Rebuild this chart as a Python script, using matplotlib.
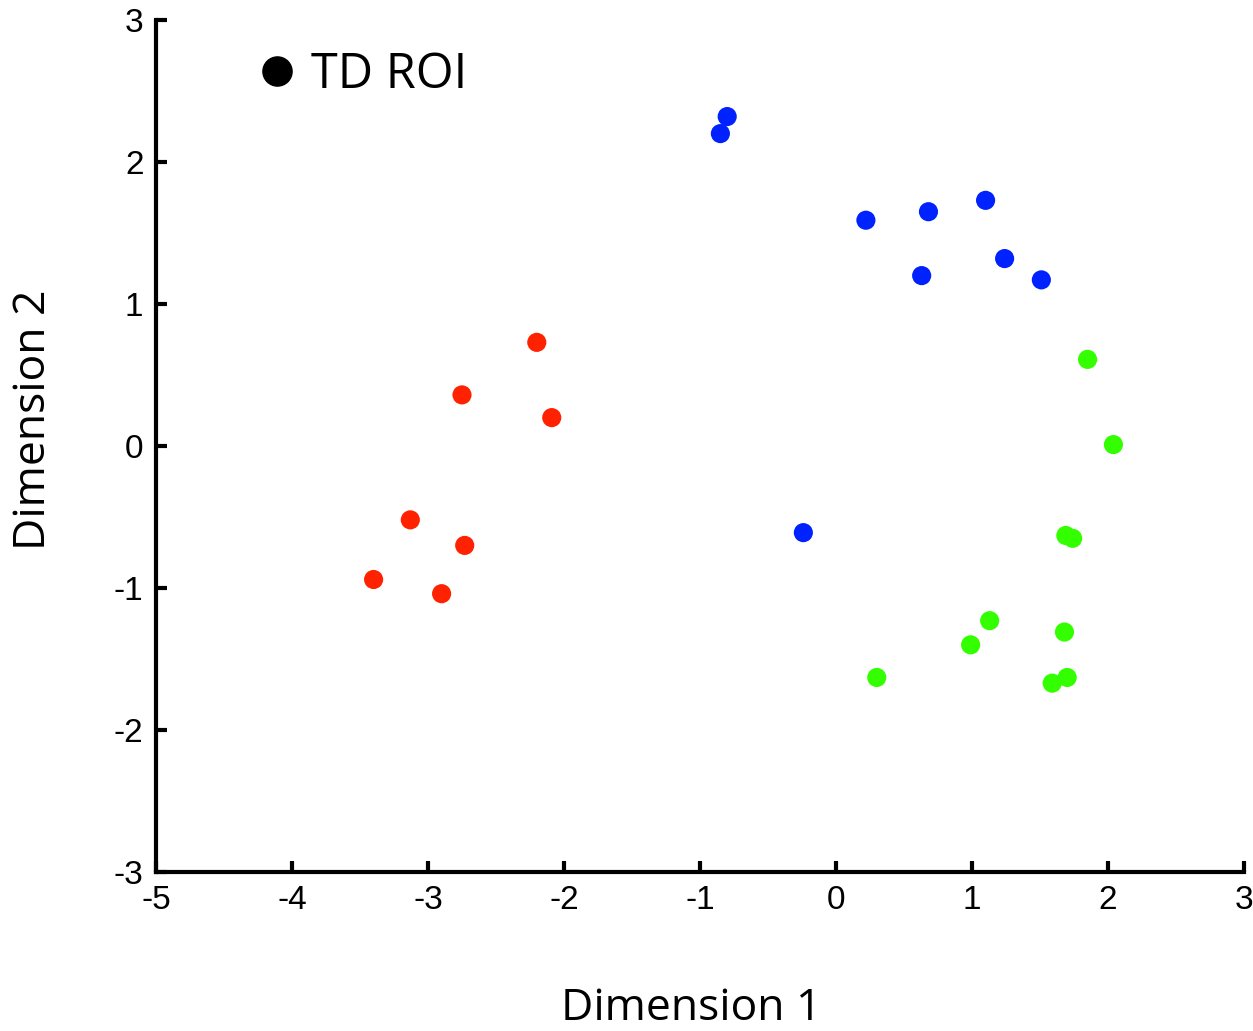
import numpy as np
import matplotlib.pyplot as plt
from matplotlib.lines import Line2D

plt.rcParams['axes.unicode_minus'] = False

# MDS coordinates per group
blue_x = [-0.80, -0.85, 0.22, 0.68, 1.10, 0.63, 1.24, 1.51, -0.24]
blue_y = [2.32, 2.20, 1.59, 1.65, 1.73, 1.20, 1.32, 1.17, -0.61]
red_x = [-2.20, -2.75, -2.09, -3.13, -2.73, -3.40, -2.90]
red_y = [0.73, 0.36, 0.20, -0.52, -0.70, -0.94, -1.04]
green_x = [1.85, 2.04, 1.69, 1.74, 1.13, 0.99, 1.68, 0.30, 1.59, 1.70]
green_y = [0.61, 0.01, -0.63, -0.65, -1.23, -1.40, -1.31, -1.63, -1.67, -1.63]

xticks = [-5, -4, -3, -2, -1, 0, 1, 2, 3]
yticks = [-3, -2, -1, 0, 1, 2, 3]

fig = plt.figure(figsize=(12.53, 10.31), dpi=100)
ax = fig.add_axes([0.1245, 0.1542, 0.8683, 0.8264])

ms = 190
ax.scatter(blue_x, blue_y, s=ms, color='#0022ff', edgecolors='none', zorder=3)
ax.scatter(red_x, red_y, s=ms, color='#ff2200', edgecolors='none', zorder=3)
ax.scatter(green_x, green_y, s=ms, color='#33ff00', edgecolors='none', zorder=3)

ax.set_xlim(-5, 3)
ax.set_ylim(-3, 3)
ax.set_xticks(xticks)
ax.set_yticks(yticks)
ax.spines['top'].set_visible(False)
ax.spines['right'].set_visible(False)
for s in ['left', 'bottom']:
    ax.spines[s].set_linewidth(3)
ax.tick_params(direction='in', length=8, width=3, labelsize=24, pad=9)
for lab in ax.get_xticklabels() + ax.get_yticklabels():
    lab.set_family('Liberation Sans')

# legend
handle = Line2D([], [], marker='o', linestyle='none', color='black', markersize=21)
leg = ax.legend([handle], ['TD ROI'], loc='upper left', bbox_to_anchor=(0.026, 1.016),
                frameon=False, handletextpad=-0.3, prop={'family': 'Open Sans', 'size': 35})

fig.text(0.5515, 0.022, 'Dimension 1', ha='center', va='center',
         family='Open Sans', fontsize=32)
fig.text(0.027, 0.593, 'Dimension 2', ha='center', va='center', rotation=90,
         family='Open Sans', fontsize=32)

fig.savefig('out.png', dpi=100)
